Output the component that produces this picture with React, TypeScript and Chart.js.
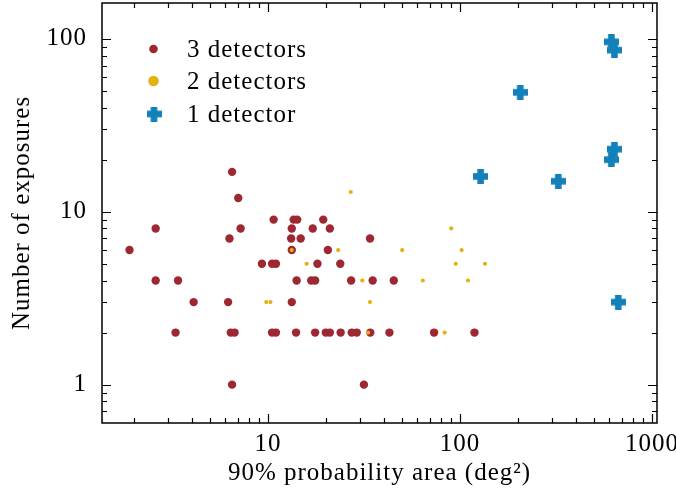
import React, { useEffect, useRef } from "react";
import { Chart, registerables } from "chart.js";

Chart.register(...registerables);

// ---- data ----
const threeDetArea = [
  1.9, 2.6, 2.6, 3.3, 3.4, 4.1, 6.2, 6.3, 6.4, 6.5, 6.5, 6.7, 7.0, 7.2, 9.3,
  10.5, 11.0, 10.5, 11.0, 10.7, 13.3, 13.3, 13.3, 13.2, 14.8, 13.6, 14.2, 14.0,
  14.1, 16.8, 17.6, 17.1, 17.6, 18.1, 19.4, 20.0, 21.0, 20.5, 21.0, 23.8, 23.9,
  27.1, 27.3, 29.0, 34.0, 34.1, 35.1, 31.6, 42.9, 45.2, 73.3, 119,
];
const threeDetCount = [
  6, 8, 4, 2, 4, 3, 3, 7, 2, 17, 1, 2, 12, 8, 5,
  5, 5, 2, 2, 9, 8, 6, 3, 7, 7, 9, 9, 2,
  4, 4, 4, 8, 2, 5, 9, 2, 2, 6, 8, 5, 2,
  4, 2, 2, 7, 2, 4, 1, 2, 4, 2, 2,
];

const twoDetArea = [13.3, 9.8, 10.3, 27, 90, 23.2, 50, 102, 15.9, 95, 135, 31, 64, 110, 34, 33.2, 83.2];
const twoDetCount = [6, 3, 3, 13, 8, 6, 6, 6, 5, 5, 5, 4, 4, 4, 3, 2, 2];

const oneDetArea = [614, 637, 206, 637, 614, 128, 325, 667];
const oneDetCount = [96, 86, 49, 23, 20, 16, 15, 3];

const seriesLabels = ["3 detectors", "2 detectors", "1 detector"];
const xTickValues = [10, 100, 1000];
const yTickValues = [1, 10, 100];

const X_MIN = 1.366;
const X_MAX = 1062;
const Y_MIN = 0.621;
const Y_MAX = 161;

const RED = "#9E2832";
const YELLOW = "#E2B212";
const BLUE = "#1380BA";
const FONT = "'Liberation Serif', 'Times New Roman', serif";
const FS = 25;

function makePlus(size: number, arm: number, color: string) {
  const c = document.createElement("canvas");
  c.width = size;
  c.height = size;
  const g = c.getContext("2d")!;
  g.fillStyle = color;
  const a0 = (size - arm) / 2;
  g.fillRect(a0, 0, arm, size);
  g.fillRect(0, a0, size, arm);
  return c;
}

function logTickList(min: number, max: number) {
  const out: { v: number; major: boolean }[] = [];
  const e0 = Math.floor(Math.log10(min));
  const e1 = Math.ceil(Math.log10(max));
  for (let e = e0; e <= e1; e++) {
    for (let m = 1; m <= 9; m++) {
      const v = m * Math.pow(10, e);
      if (v >= min && v <= max) out.push({ v, major: m === 1 });
    }
  }
  return out;
}

const spacingPlugin = {
  id: "spacing",
  beforeDraw(chart: any) {
    try {
      (chart.ctx as any).letterSpacing = "1px";
    } catch (e) {}
  },
};

const framePlugin = {
  id: "frameTicks",
  afterDraw(chart: any) {
    const { ctx, chartArea, scales } = chart;
    const { left, right, top, bottom } = chartArea;
    const xs = scales.x;
    const ys = scales.y;
    ctx.save();
    ctx.strokeStyle = "#000";
    ctx.lineWidth = 1.2;
    ctx.beginPath();
    for (const t of logTickList(X_MIN, X_MAX)) {
      const px = Math.round(xs.getPixelForValue(t.v)) + 0.5;
      const len = t.major ? 9 : 5;
      ctx.moveTo(px, bottom);
      ctx.lineTo(px, bottom - len);
      ctx.moveTo(px, top);
      ctx.lineTo(px, top + len);
    }
    for (const t of logTickList(Y_MIN, Y_MAX)) {
      const py = Math.round(ys.getPixelForValue(t.v)) + 0.5;
      const len = t.major ? 9 : 5;
      ctx.moveTo(left, py);
      ctx.lineTo(left + len, py);
      ctx.moveTo(right, py);
      ctx.lineTo(right - len, py);
    }
    ctx.stroke();
    ctx.lineWidth = 1.5;
    ctx.strokeRect(left, top, right - left, bottom - top);
    ctx.restore();
  },
};

const legendPlugin = {
  id: "insideLegend",
  afterDraw(chart: any) {
    const { ctx } = chart;
    const ds = chart.data.datasets;
    const mx = 153.5;
    const tx = 187;
    const rows = [49, 81, 114];
    ctx.save();
    ctx.font = `${FS}px ${FONT}`;
    ctx.textBaseline = "middle";
    ctx.textAlign = "left";
    ctx.fillStyle = RED;
    ctx.beginPath();
    ctx.arc(mx, rows[0], 4.3, 0, Math.PI * 2);
    ctx.fill();
    ctx.fillStyle = YELLOW;
    ctx.beginPath();
    ctx.arc(mx, rows[1], 5.3, 0, Math.PI * 2);
    ctx.fill();
    const plus = ds[2].pointStyle as HTMLCanvasElement;
    ctx.drawImage(plus, mx - plus.width / 2 + 0.5, rows[2] - plus.height / 2);
    ctx.fillStyle = "#000";
    for (let i = 0; i < 3; i++) {
      ctx.fillText(ds[i].label, tx, rows[i] + 1);
    }
    ctx.restore();
  },
};

function zeroPad(s: any) {
  s.paddingTop = 0;
  s.paddingBottom = 0;
  s.paddingLeft = 0;
  s.paddingRight = 0;
}

export default function App() {
  const ref = useRef<HTMLCanvasElement>(null);
  useEffect(() => {
    if (!ref.current) return;
    const plus = makePlus(15, 6.6, BLUE);
    const toPts = (xs: number[], ys: number[]) => xs.map((x, i) => ({ x, y: ys[i] }));
    const chart = new Chart(ref.current, {
      type: "scatter",
      data: {
        datasets: [
          {
            label: seriesLabels[0],
            data: toPts(threeDetArea, threeDetCount),
            backgroundColor: RED,
            borderWidth: 0,
            pointRadius: 4.2,
            pointHoverRadius: 4.2,
            order: 3,
          },
          {
            label: seriesLabels[1],
            data: toPts(twoDetArea, twoDetCount),
            backgroundColor: YELLOW,
            borderWidth: 0,
            pointRadius: 2.1,
            pointHoverRadius: 2.1,
            order: 2,
          },
          {
            label: seriesLabels[2],
            data: toPts(oneDetArea, oneDetCount),
            backgroundColor: BLUE,
            borderWidth: 0,
            pointStyle: plus as any,
            pointRadius: 7,
            order: 1,
          },
        ],
      },
      options: {
        responsive: false,
        animation: false,
        devicePixelRatio: 1,
        events: [],
        layout: { autoPadding: false, padding: { top: 3, right: 19, left: 0, bottom: 0 } },
        plugins: { legend: { display: false }, tooltip: { enabled: false }, title: { display: false } },
        scales: {
          x: {
            type: "logarithmic",
            min: X_MIN,
            max: X_MAX,
            afterBuildTicks: (s: any) => {
              s.ticks = xTickValues.map((v) => ({ value: v }));
            },
            afterFit: (s: any) => {
              s.height = 79;
              zeroPad(s);
            },
            ticks: {
              callback: (v: any) => String(v),
              font: { family: FONT, size: FS },
              color: "#000",
              padding: 6,
              maxRotation: 0,
              autoSkip: false,
            },
            grid: { display: false, drawTicks: false },
            border: { display: false },
            title: {
              display: true,
              text: "90% probability area (deg²)",
              font: { family: FONT, size: FS },
              color: "#000",
              padding: { top: 0, bottom: 14 },
            },
          },
          y: {
            type: "logarithmic",
            min: Y_MIN,
            max: Y_MAX,
            afterBuildTicks: (s: any) => {
              s.ticks = yTickValues.map((v) => ({ value: v }));
            },
            afterFit: (s: any) => {
              s.width = 102;
              zeroPad(s);
            },
            ticks: {
              callback: (v: any) => String(v),
              font: { family: FONT, size: FS },
              color: "#000",
              padding: 15,
              autoSkip: false,
            },
            grid: { display: false, drawTicks: false },
            border: { display: false },
            title: {
              display: true,
              text: "Number of exposures",
              font: { family: FONT, size: FS },
              color: "#000",
              padding: { top: 7, bottom: 0 },
            },
          },
        },
      },
      plugins: [spacingPlugin, framePlugin, legendPlugin],
    } as any);
    return () => chart.destroy();
  }, []);
  return (
    <div style={{ position: "fixed", left: 0, top: 0, width: 676, height: 502, background: "#fff" }}>
      <canvas ref={ref} width={676} height={502} style={{ display: "block", width: 676, height: 502 }} />
    </div>
  );
}
